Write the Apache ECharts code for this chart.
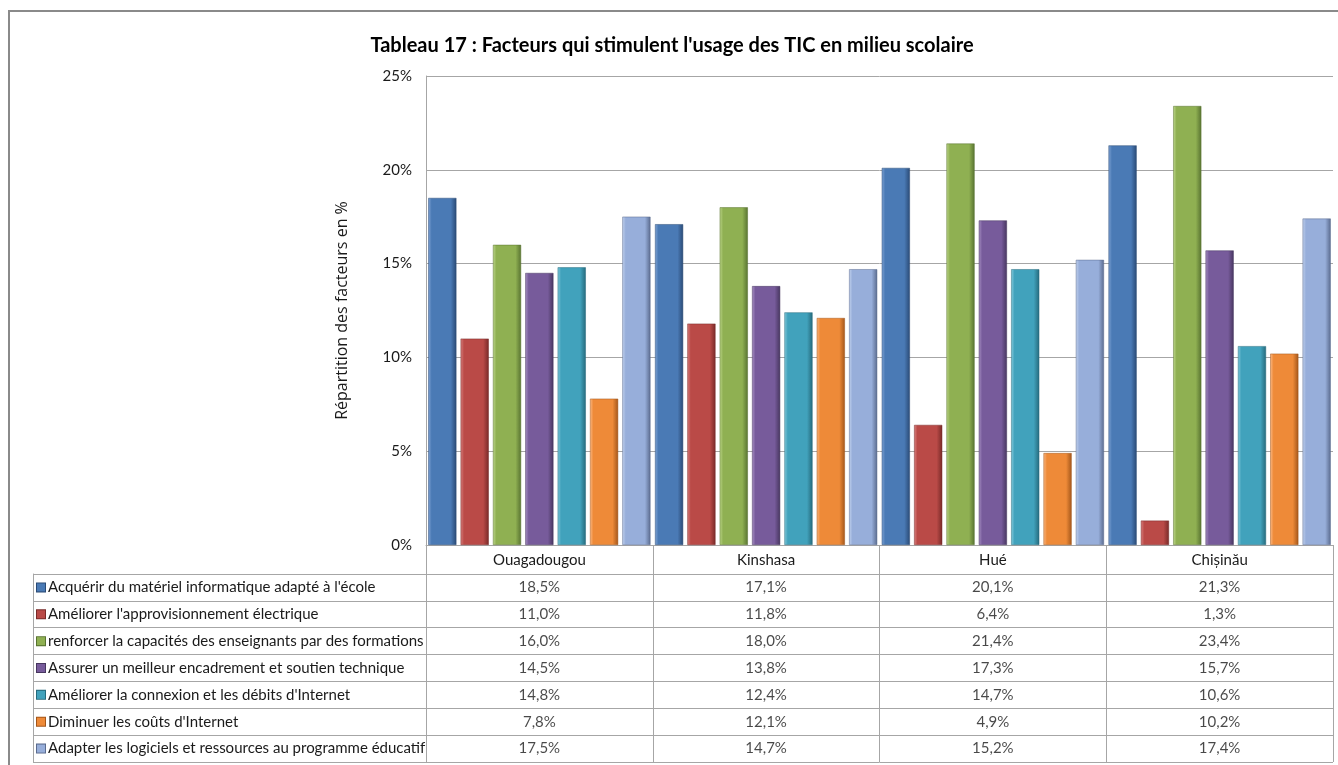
<!DOCTYPE html>
<html>
<head>
<meta charset="utf-8">
<script src="https://cdn.jsdelivr.net/npm/echarts@6/dist/echarts.min.js"></script>
<style>
  html, body { margin: 0; padding: 0; background: #fff; }
  #chart { width: 1338px; height: 765px; }
</style>
</head>
<body>
<div id="chart"></div>
<script>
var cities = ['Ouagadougou', 'Kinshasa', 'Hué', 'Chișinău'];
var factors = [
    "Acquérir du matériel informatique adapté à l'école",
    "Améliorer l'approvisionnement électrique",
    "renforcer la capacités des enseignants par des formations",
    "Assurer un meilleur encadrement et soutien technique",
    "Améliorer la connexion et les débits d'Internet",
    "Diminuer les coûts d'Internet",
    "Adapter les logiciels et ressources au programme éducatif"
];
var materiel = [18.5, 17.1, 20.1, 21.3];
var electrique = [11.0, 11.8, 6.4, 1.3];
var formations = [16.0, 18.0, 21.4, 23.4];
var encadrement = [14.5, 13.8, 17.3, 15.7];
var connexion = [14.8, 12.4, 14.7, 10.6];
var couts = [7.8, 12.1, 4.9, 10.2];
var logiciels = [17.5, 14.7, 15.2, 17.4];
var yTicks = [0, 5, 10, 15, 20, 25];

var values = [materiel, electrique, formations, encadrement, connexion, couts, logiciels];
var colors = ['#4A7AB5', '#BA4A47', '#8FB052', '#775B9B', '#41A2BC', '#EE8A38', '#97AEDA'];
var darks = ['#2a4a75', '#782a28', '#587331', '#47365f', '#266a7c', '#a3561a', '#5a6b8e'];
var lights = ['#7fa3d4', '#d9807e', '#bdd68a', '#a68fc2', '#85cadb', '#fbb883', '#c2d2ee'];

var font = "Lato, 'Open Sans', sans-serif";
var lineGray = '#a6a6a6';

function fmt(v) {
    return v.toFixed(1).replace('.', ',') + '%';
}

var chart = echarts.init(document.getElementById('chart'));

var rich = { t: { fontSize: 15, fontFamily: font, color: '#1a1a1a', padding: [0, 0, 0, 3] } };
colors.forEach(function (c, i) {
    rich['m' + i] = {
        width: 8, height: 8,
        backgroundColor: c,
        borderColor: darks[i], borderWidth: 1
    };
});

var series = [];
values.forEach(function (vals, i) {
    series.push({
        name: factors[i],
        type: 'bar',
        xAxisIndex: 0,
        yAxisIndex: 0,
        barGap: '15%',
        barCategoryGap: '2%',
        data: vals,
        itemStyle: {
            color: new echarts.graphic.LinearGradient(0, 0, 1, 0, [
                { offset: 0, color: lights[i] },
                { offset: 0.12, color: colors[i] },
                { offset: 0.8, color: colors[i] },
                { offset: 1, color: darks[i] }
            ]),
            borderColor: darks[i],
            borderWidth: 0.5
        }
    });
    series.push({
        name: factors[i] + ' (table)',
        type: 'scatter',
        xAxisIndex: 1,
        yAxisIndex: 1,
        symbolSize: 0,
        silent: true,
        data: vals.map(function (v, j) { return [j, i, v]; }),
        label: {
            show: true,
            position: 'inside',
            fontSize: 15,
            fontFamily: font,
            color: '#1a1a1a',
            formatter: function (p) { return fmt(p.value[2]); }
        }
    });
});

var option = {
    animation: false,
    backgroundColor: '#ffffff',
    title: {
        text: "Tableau 17 : Facteurs qui stimulent l'usage des TIC en milieu scolaire",
        left: 667,
        textAlign: 'center',
        top: 31,
        textStyle: { fontSize: 20, fontWeight: 'bold', fontFamily: font, color: '#000' }
    },
    graphic: [{
        type: 'rect',
        shape: { x: 9, y: 11, width: 1340, height: 800 },
        style: { fill: 'none', stroke: '#8a8a8a', lineWidth: 2 },
        silent: true
    }],
    grid: [
        { left: 426, right: 5, top: 76, bottom: 220 },
        { left: 426, right: 5, top: 574, bottom: 3 }
    ],
    xAxis: [{
        type: 'category',
        gridIndex: 0,
        data: cities,
        axisLine: { lineStyle: { color: lineGray } },
        axisTick: { show: true, length: 29, lineStyle: { color: lineGray } },
        axisLabel: { fontSize: 15, fontFamily: font, color: '#1a1a1a', margin: 8 }
    }, {
        type: 'category',
        gridIndex: 1,
        data: cities,
        axisLine: { show: false },
        axisTick: { show: false },
        axisLabel: { show: false },
        splitLine: { show: true, lineStyle: { color: lineGray } }
    }],
    yAxis: [{
        type: 'value',
        gridIndex: 0,
        min: yTicks[0],
        max: yTicks[yTicks.length - 1],
        interval: yTicks[1] - yTicks[0],
        name: 'Répartition des facteurs en %',
        nameLocation: 'middle',
        nameRotate: 90,
        nameGap: 76,
        nameTextStyle: { fontSize: 16, fontFamily: "'Open Sans', sans-serif", color: '#1a1a1a' },
        axisLine: { show: true, lineStyle: { color: lineGray } },
        axisTick: { show: false },
        axisLabel: { fontSize: 15, fontFamily: font, color: '#1a1a1a', margin: 14, formatter: '{value}%' },
        splitLine: { show: true, lineStyle: { color: lineGray } }
    }, {
        type: 'category',
        gridIndex: 1,
        inverse: true,
        data: factors,
        axisLine: { show: true, lineStyle: { color: lineGray } },
        axisTick: { show: true, length: 393, lineStyle: { color: lineGray } },
        axisLabel: {
            align: 'left',
            margin: 389,
            formatter: function (v, idx) { return '{m' + idx + '|}{t|' + v + '}'; },
            rich: rich
        },
        splitLine: { show: true, lineStyle: { color: lineGray } }
    }, {
        type: 'category',
        gridIndex: 1,
        position: 'left',
        offset: 393,
        data: factors,
        axisLine: { show: true, lineStyle: { color: lineGray } },
        axisTick: { show: false },
        axisLabel: { show: false }
    }],
    series: series
};

chart.setOption(option);
</script>
</body>
</html>
